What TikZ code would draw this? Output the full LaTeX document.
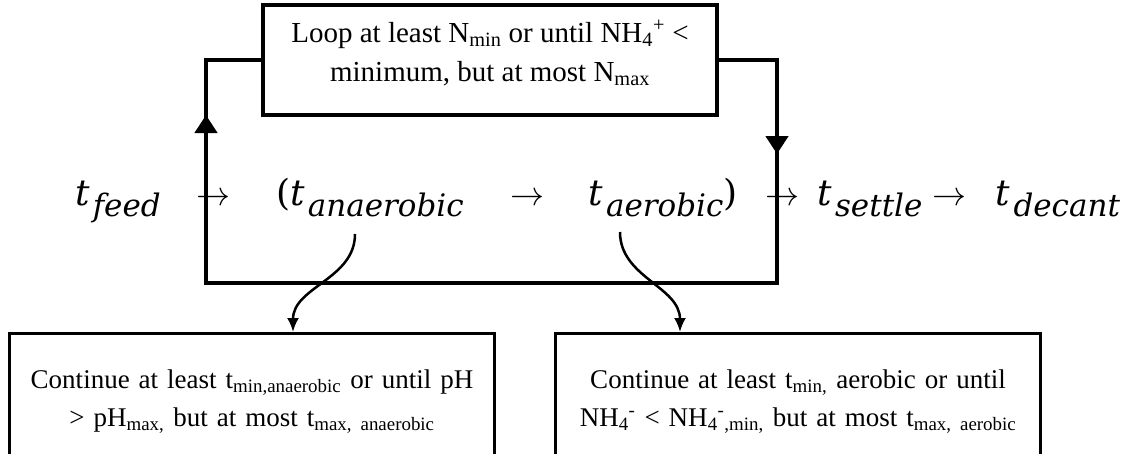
\RequirePackage{fix-cm}
\documentclass[tikz,border=0pt]{standalone}
\usepackage{fontspec}
\setmainfont{Liberation Serif}
\newfontfamily\eqfont{DejaVu Serif}
\usetikzlibrary{arrows.meta}

% t with an italic subscript, set as in the equation editor
\newcommand{\phaset}[1]{\textit{t}\hspace{3pt}\raisebox{-11pt}{\fontsize{31}{31}\selectfont\textit{#1}}}

\tikzset{
  term/.style={anchor=base, inner sep=0pt, font=\eqfont\fontsize{36}{40}\selectfont},
  seqarrow/.style={anchor=base, inner sep=0pt, font=\fontsize{34}{40}\selectfont},
  loopbox/.style={draw, line width=4.7pt, minimum width=454pt, minimum height=110pt, inner sep=0pt},
  boxtext/.style={align=center, inner sep=0pt, font=\fontsize{29}{39}\selectfont},
  note/.style={draw, line width=2.7pt, align=center, anchor=north, minimum width=485pt,
    minimum height=136pt, text width=470pt, inner sep=0pt, font=\fontsize{27}{38}\selectfont},
  loopline/.style={line width=4.7pt},
  looptip/.style={line width=4.7pt, -{Triangle[length=18pt,width=22pt]}},
  pick/.style={line width=2.5pt, -{Latex[length=14pt,width=12pt]}},
}

\begin{document}
\begin{tikzpicture}[x=1pt, y=-1pt]
\clip (0,0) rectangle (1128,453);

% the cycle
\node[term] (feed) at (118,205) {\phaset{feed}};
\node[seqarrow] (a1) at (213,205) {$\rightarrow$};
\node[term] (ana) at (370,205) {(\phaset{anaerobic}};
\node[seqarrow] (a2) at (527,205) {$\rightarrow$};
\node[term] (aer) at (663,205) {\phaset{aerobic})};
\node[seqarrow] (a3) at (782,205) {$\rightarrow$};
\node[term] (settle) at (870,205) {\phaset{settle}};
\node[seqarrow] (a4) at (949,205) {$\rightarrow$};
\node[term] (decant) at (1058,205) {\phaset{decant}};

% loop condition
\node[loopbox] (cond) at (490,60) {};
\node[boxtext] (condText) at (490,53) {Loop at least N\textsubscript{min} or until NH\textsubscript{4}\textsuperscript{+} <\\
  minimum, but at most N\textsubscript{max}};

\coordinate (lb) at (206,283);
\coordinate (rb) at (777,283);
\draw[loopline] (cond.west) -| (lb) -- (rb) |- (cond.east);
\draw[looptip] (206,134) -- (206,115);
\draw[looptip] (777,136) -- (777,154);

% phase conditions
\node[note] (anaNote) at (252,332) {Continue at least t\textsubscript{min,anaerobic} or until pH\\
  > pH\textsubscript{max,} but at most t\textsubscript{max, anaerobic}};
\node[note] (aerNote) at (798,332) {Continue at least t\textsubscript{min,} aerobic or until\\
  NH\textsubscript{4}\textsuperscript{-} < NH\textsubscript{4}\textsuperscript{-}\textsubscript{,min,} but at most t\textsubscript{max, aerobic}};

\coordinate (anaFoot) at (355,234);
\coordinate (aerFoot) at (620,232);
\draw[pick] (anaFoot) to[out=-90, in=90] ([xshift=41pt]anaNote.north);
\draw[pick] (aerFoot) to[out=-90, in=90] ([xshift=-118pt]aerNote.north);
\end{tikzpicture}
\end{document}
